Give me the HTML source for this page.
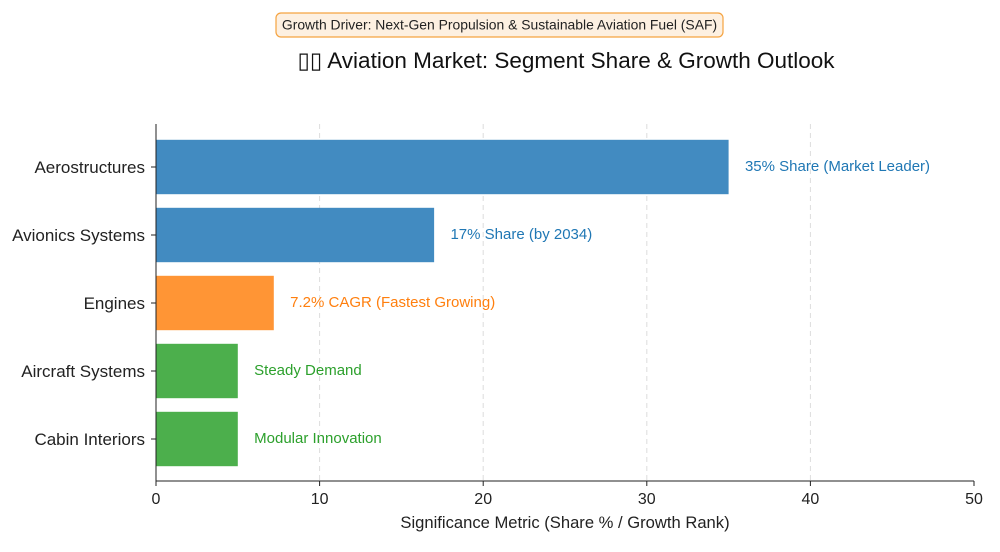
<!DOCTYPE html>
<html><head><meta charset="utf-8">
<style>
body{margin:0;background:#fff;width:1000px;height:547px;overflow:hidden;font-family:"Liberation Sans","DejaVu Sans",sans-serif;}
</style></head>
<body>
<svg id="chart" width="1000" height="547" xmlns="http://www.w3.org/2000/svg" font-family="Liberation Sans, DejaVu Sans, sans-serif">
<rect x="276" y="13" width="447" height="24" rx="5" fill="#fdf0e1" stroke="#f5a340" stroke-width="1.2"/>
<text x="499.5" y="29.5" text-anchor="middle" font-size="13.9" fill="#222">Growth Driver: Next-Gen Propulsion &amp; Sustainable Aviation Fuel (SAF)</text>
<text x="566" y="68" text-anchor="middle" font-size="22.5" fill="#111">▯▯ Aviation Market: Segment Share &amp; Growth Outlook</text>
<g id="grid"></g><g id="bars"></g><g id="axes"></g>
<text x="565" y="528" text-anchor="middle" font-size="16.6" fill="#222">Significance Metric (Share % / Growth Rank)</text>
</svg>
<script>
const categories=["Aerostructures","Avionics Systems","Engines","Aircraft Systems","Cabin Interiors"];
const values=[35,17,7.2,5,5];
const labels=["35% Share (Market Leader)","17% Share (by 2034)","7.2% CAGR (Fastest Growing)","Steady Demand","Modular Innovation"];
const groups=["blue","blue","orange","green","green"];
const ticks=[0,10,20,30,40,50];
const fills={blue:"#428bc1",orange:"#ff9535",green:"#4caf4c"};
const textCols={blue:"#1f77b4",orange:"#ff7f0e",green:"#2ca02c"};
const NS="http://www.w3.org/2000/svg";
const x0=156,x1=974,yTop=124,yBot=481,xMax=50;
const xs=v=>x0+v/xMax*(x1-x0);
const step=68,yc=i=>167+i*step,bh=54.4;
function mk(t,a,p){const e=document.createElementNS(NS,t);for(const k in a)e.setAttribute(k,a[k]);p.appendChild(e);return e;}
const grid=document.getElementById('grid'),bars=document.getElementById('bars'),axes=document.getElementById('axes');
ticks.forEach(t=>{
 if(t>0&&t<xMax){const g=mk('line',{x1:xs(t),x2:xs(t),y1:yTop,y2:yBot,stroke:'#ddd','stroke-dasharray':'5,4'},grid);
 
 }
 const tk=mk('line',{x1:xs(t),x2:xs(t),y1:yBot,y2:yBot+5,stroke:'#222'},axes);
 
 
 const tl=mk('text',{x:xs(t),y:yBot+23,'text-anchor':'middle','font-size':16,fill:'#222'},axes);tl.textContent=t;
 
 
});
categories.forEach((c,i)=>{
 const r=mk('rect',{x:xs(0),y:yc(i)-bh/2,width:xs(values[i])-xs(0),height:bh,fill:fills[groups[i]]},bars);
 
 
 const l=mk('text',{x:xs(values[i]+1),y:yc(i)+4,'font-size':15,fill:textCols[groups[i]]},bars);l.textContent=labels[i];
 
 
 const tk=mk('line',{x1:x0-5,x2:x0,y1:yc(i),y2:yc(i),stroke:'#222'},axes);
 
 
 const cl=mk('text',{x:x0-11,y:yc(i)+6,'text-anchor':'end','font-size':17,fill:'#222'},axes);cl.textContent=c;
 
 
});
const ya=mk('line',{x1:x0,x2:x0,y1:yTop,y2:yBot,stroke:'#222'},axes);


const xa=mk('line',{x1:x0,x2:x1,y1:yBot,y2:yBot,stroke:'#222'},axes);


</script>
</body></html>
